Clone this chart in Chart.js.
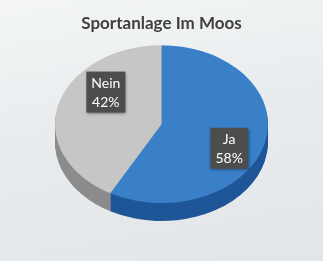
<!DOCTYPE html>
<html>
<head>
<meta charset="utf-8">
<script src="https://cdn.jsdelivr.net/npm/chart.js@4"></script>
<style>
  html, body { margin: 0; padding: 0; }
  #wrap {
    width: 323px; height: 261px;
    background: linear-gradient(170deg, #f3f5f6 0%, #e9ecee 45%, #e2e6e9 100%);
  }
</style>
</head>
<body>
<div id="wrap"><canvas id="pie" width="323" height="261"></canvas></div>
<script>
var labels = ["Ja", "Nein"];
var values = [58, 42];
var topColors = ["#3a80c9", "#c6c6c6"];
var sideColors = ["#1f5698", "#8c8c8c"];

// squash the round pie into a tilted disc with a visible rim
var tilt = { sx: 1.255, sy: 0.93, depth: 18 };

var tiltPlugin = {
  id: "tilt",
  beforeDatasetsDraw: function (chart) {
    var ctx = chart.ctx;
    var meta = chart.getDatasetMeta(0);
    var cx = meta.data[0].x, cy = meta.data[0].y;
    ctx.save();
    ctx.translate(cx, cy);
    ctx.scale(tilt.sx, tilt.sy);
    ctx.translate(-cx, -cy);
    for (var d = tilt.depth; d > 0; d--) {
      ctx.save();
      ctx.translate(0, d / tilt.sy);
      meta.data.forEach(function (arc, i) {
        var keep = arc.options;
        arc.options = Object.assign({}, keep, { backgroundColor: sideColors[i], borderColor: sideColors[i] });
        arc.draw(ctx);
        arc.options = keep;
      });
      ctx.restore();
    }
  },
  afterDatasetsDraw: function (chart) {
    var ctx = chart.ctx;
    ctx.restore();
    var meta = chart.getDatasetMeta(0);
    var total = values.reduce(function (a, b) { return a + b; }, 0);
    meta.data.forEach(function (arc, i) {
      var p = arc.getProps(["x", "y", "startAngle", "endAngle", "outerRadius"], true);
      var mid = (p.startAngle + p.endAngle) / 2 + 0.3;
      var r = p.outerRadius * 0.68;
      var x = p.x + Math.cos(mid) * r * tilt.sx + 6;
      var y = p.y + Math.sin(mid) * r * tilt.sy - 4;
      var pct = Math.round(values[i] / total * 100) + "%";
      ctx.save();
      ctx.font = "14px Lato, sans-serif";
      var w = Math.max(ctx.measureText(labels[i]).width, ctx.measureText(pct).width) + 10;
      var h = 41;
      ctx.shadowColor = "rgba(0,0,0,0.45)";
      ctx.shadowBlur = 3;
      ctx.shadowOffsetX = 1;
      ctx.shadowOffsetY = 1;
      ctx.fillStyle = "#4d4d4d";
      ctx.fillRect(x - w / 2, y - h / 2, w, h);
      ctx.shadowColor = "transparent";
      ctx.fillStyle = "#ffffff";
      ctx.textAlign = "center";
      ctx.textBaseline = "middle";
      ctx.fillText(labels[i], x, y - 9);
      ctx.fillText(pct, x, y + 10);
      ctx.restore();
    });
  }
};

new Chart(document.getElementById("pie"), {
  type: "pie",
  data: {
    labels: labels,
    datasets: [{
      data: values,
      backgroundColor: topColors,
      borderWidth: 0
    }]
  },
  options: {
    responsive: false,
    animation: false,
    layout: { padding: { top: 0, bottom: 52, left: 0, right: 0 } },
    plugins: {
      legend: { display: false },
      tooltip: { enabled: false },
      title: {
        display: true,
        text: "Sportanlage Im Moos",
        color: "#404040",
        font: { family: "Lato, sans-serif", size: 17, weight: "bold" },
        padding: { top: 13, bottom: 6 }
      }
    }
  },
  plugins: [tiltPlugin]
});
</script>
</body>
</html>
